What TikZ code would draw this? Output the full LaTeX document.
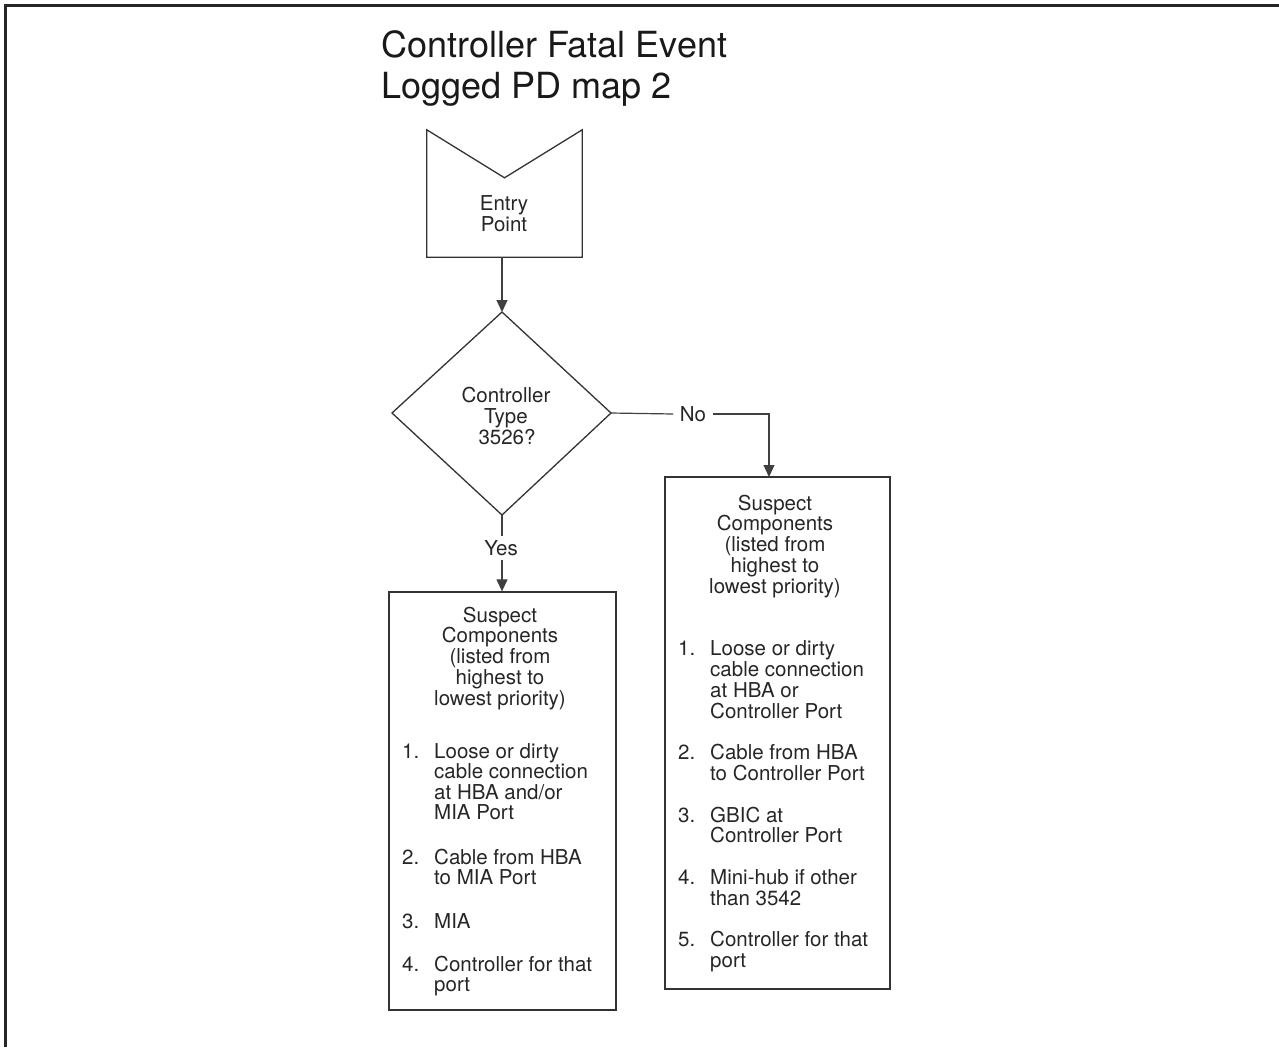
\documentclass[tikz,border=0pt]{standalone}
\usepackage{fontspec}
\setmainfont{TeX Gyre Heros}
\usetikzlibrary{arrows.meta}
\begin{document}
\begin{tikzpicture}[x=1pt,y=-1pt,
  txt/.style={font=\fontsize{20.5}{20.8}\selectfont, inner sep=0pt, text=black!85},
  ttl/.style={font=\fontsize{36}{41}\selectfont, inner sep=0pt, anchor=base west, text=black!90},
  boxline/.style={draw=black!80, line width=1.3pt},
  conn/.style={draw=black!75, line width=1.2pt},
  arr/.style={conn, -{Triangle[width=11pt,length=12pt]}},
  boxnode/.style={boxline, inner sep=0pt, fill=none}
]
\useasboundingbox (0,0) rectangle (1279,1047);
% frame
\draw[line width=2.2pt, black!85] (5.5,1047) -- (5.5,5.5) -- (1279,5.5);

% title
\node[ttl] (title1) at (381,57) {Controller Fatal Event};
\node[ttl] (title2) at (381,98) {Logged PD map 2};

% entry point
\node[inner sep=0pt, minimum width=155pt, minimum height=127pt] (entry) at (504.5,193.5) {};
\draw[boxline] (entry.north west) -- ([yshift=-48pt]entry.north) -- (entry.north east)
  -- (entry.south east) -- (entry.south west) -- cycle;
\node[txt, anchor=base] (entry1) at (504,210) {Entry};
\node[txt, anchor=base] (entry2) at (504,231) {Point};

% decision diamond
\coordinate (dt) at (502,312);
\coordinate (dl) at (392,413);
\coordinate (dr) at (611,413);
\coordinate (db) at (502,515);
\draw[boxline] (dt) -- (dr) -- (db) -- (dl) -- cycle;
\node[txt, anchor=base] (d1) at (506,402) {Controller};
\node[txt, anchor=base] (d2) at (506,423) {Type};
\node[txt, anchor=base] (d3) at (507,444) {3526?};

% entry -> diamond
\draw[arr] (dt |- entry.south) -- (dt);

% boxes
\node[boxnode, minimum width=227pt, minimum height=418pt] (lbox) at (502.5,801) {};
\node[boxnode, minimum width=225pt, minimum height=512pt] (rbox) at (777.5,733) {};

% No branch
\node[txt, inner xsep=6.5pt] (no) at (693,414) {No};
\coordinate (rin) at (769,477);
\draw[conn] (dr) -- (no.west);
\draw[arr] (no.east) -| (rin);

% Yes branch
\node[txt, inner ysep=4pt] (yes) at (501,548) {Yes};
\draw[conn] (db) -- (db |- yes.north);
\draw[arr] (db |- yes.south) -- (db |- lbox.north);

% left box text
\foreach \k/\t in {0/{Suspect},1/{Components},2/{(listed from},3/{highest to},4/{lowest priority)}}
  \node[txt, anchor=base] (lh\k) at (500,622+\k*20.8) {\t};
\foreach \y/\n in {758/1.,864/2.,928/3.,971/4.}
  \node[txt, anchor=base west] (ln\n) at (402,\y) {\n};
\foreach \y/\t in {758/{Loose or dirty},778.5/{cable connection},799/{at HBA and/or},819.5/{MIA Port},
                   864/{Cable from HBA},884.5/{to MIA Port},928/{MIA},971/{Controller for that},991.5/{port}}
  \node[txt, anchor=base west] (lt\y) at (434,\y) {\t};

% right box text
\foreach \k/\t in {0/{Suspect},1/{Components},2/{(listed from},3/{highest to},4/{lowest priority)}}
  \node[txt, anchor=base] (rh\k) at (775,510+\k*20.8) {\t};
\foreach \k/\n in {7/1.,12/2.,15/3.,18/4.,21/5.}
  \node[txt, anchor=base west] (rn\k) at (678,510+\k*20.8) {\n};
\foreach \k/\t in {7/{Loose or dirty},8/{cable connection},9/{at HBA or},10/{Controller Port},
                   12/{Cable from HBA},13/{to Controller Port},15/{GBIC at},16/{Controller Port},
                   18/{Mini-hub if other},19/{than 3542},21/{Controller for that},22/{port}}
  \node[txt, anchor=base west] (rt\k) at (710,510+\k*20.8) {\t};
\end{tikzpicture}
\end{document}
